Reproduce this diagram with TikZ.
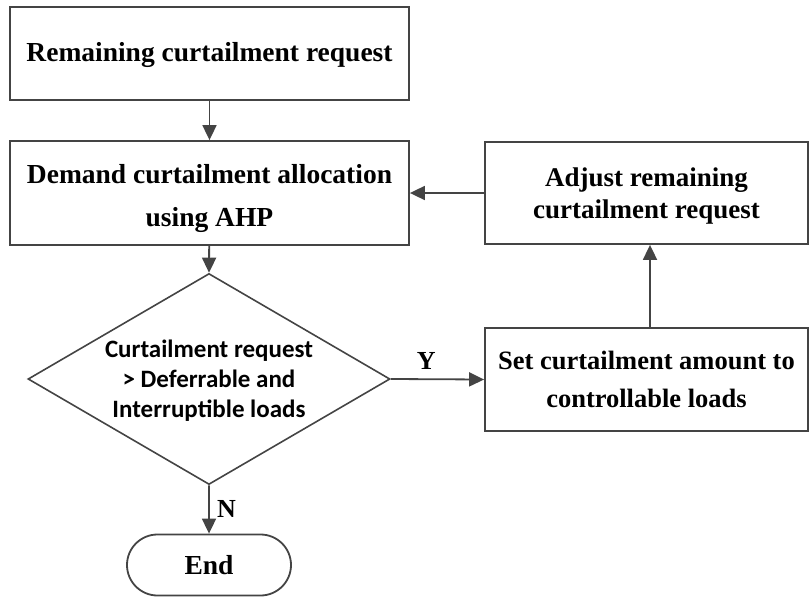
\documentclass[tikz,border=0pt]{standalone}
\usepackage{fontspec}
\setmainfont{Liberation Serif}
\newfontfamily\calibrifont{Carlito}
\usetikzlibrary{arrows.meta,shapes.geometric,shapes.misc}
\definecolor{linegray}{HTML}{444444}
\tikzset{
  procbox/.style={draw=linegray, line width=1.8pt, rectangle, inner sep=0pt},
  boxtext/.style={align=center, inner sep=0pt},
  decbox/.style={draw=linegray, line width=1.6pt, diamond, inner sep=0pt,
    aspect=1.716, minimum width=362pt, minimum height=211pt},
  termbox/.style={draw=linegray, line width=1.8pt, rounded rectangle, inner sep=0pt,
    minimum width=164pt, minimum height=61pt, font=\bfseries\fontsize{27.5}{30}\selectfont},
  flow/.style={draw=linegray, line width=1.8pt, -{Triangle[length=15pt,width=14pt]}},
  flowlabel/.style={font=\bfseries\fontsize{26}{30}\selectfont}
}
\begin{document}
\begin{tikzpicture}[x=1pt,y=-1pt]
  \useasboundingbox (0,0) rectangle (809,597);

  % process boxes
  \node[procbox, minimum width=399pt, minimum height=93pt] (req) at (209.5,53.5) {};
  \node[procbox, minimum width=399pt, minimum height=104pt] (alloc) at (209.5,193) {};
  \node[procbox, minimum width=323pt, minimum height=102pt] (adjust) at (646.5,193) {};
  \node[procbox, minimum width=323pt, minimum height=103pt] (setamt) at (646.5,379.5) {};

  \node[boxtext, font=\bfseries\fontsize{27.5}{40}\selectfont] (reqtext) at (209.5,55)
    {Remaining curtailment request};
  \node[boxtext, font=\bfseries\fontsize{27.5}{43}\selectfont] (alloctext) at (209.5,198)
    {Demand curtailment allocation\\using AHP};
  \node[boxtext, font=\bfseries\fontsize{27}{32}\selectfont] (adjusttext) at (646.5,196)
    {Adjust remaining\\curtailment request};
  \node[boxtext, font=\bfseries\fontsize{26.5}{38}\selectfont] (setamttext) at (646.5,379)
    {Set curtailment amount to\\controllable loads};

  % decision
  \node[decbox] (dec) at (209,379) {};
  \node[boxtext, font=\calibrifont\bfseries\fontsize{25}{30}\selectfont] (dectext) at (209,381)
    {Curtailment request\\> Deferrable and\\Interruptible loads};

  % terminator
  \node[termbox] (stop) at (209,565) {End};

  % connectors
  \draw[flow] (req) -- (alloc);
  \draw[flow] (alloc) -- (dec.north);
  \draw[flow] (dec.south) -- (stop) node[flowlabel, pos=0.5, right=4pt] (nlabel) {N};
  \draw[flow] (dec.east) -- (setamt.west) node[flowlabel, pos=0.38, above=5pt] (ylabel) {Y};
  \draw[flow] ([xshift=3.5pt]setamt.north) -- ([xshift=3.5pt]adjust.south);
  \draw[flow] (adjust.west) -- (alloc.east);
\end{tikzpicture}
\end{document}
